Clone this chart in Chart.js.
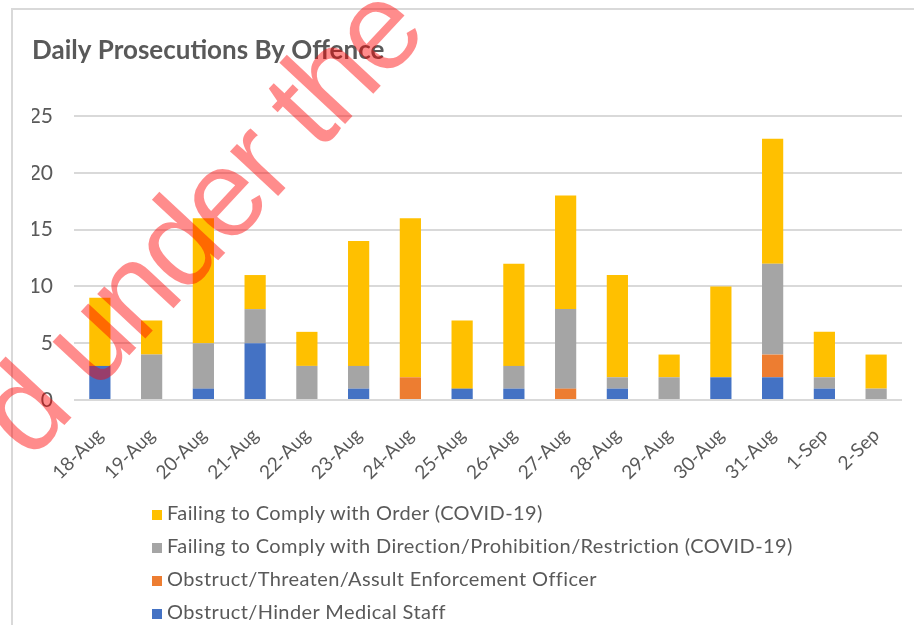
<!DOCTYPE html>
<html>
<head>
<meta charset="utf-8">
<script src="https://cdn.jsdelivr.net/npm/chart.js@4/dist/chart.umd.min.js"></script>
<style>
  body { margin: 0; background: #fff; }
  #wrap { position: relative; width: 914px; height: 625px; overflow: hidden; }
  #frame { position: absolute; left: 11px; top: 8px; width: 920px; height: 640px; border: 2px solid #d9d9d9; box-sizing: border-box; }
  #chartDaily { position: absolute; left: 0; top: 0; }
  #legend { position: absolute; left: 152px; top: 496px; font: 20px Lato, sans-serif; letter-spacing: 0.4px; color: #595959; }
  #legend div { height: 33px; line-height: 33px; white-space: nowrap; }
  #legend span { display: inline-block; width: 10px; height: 10px; margin-right: 5px; }
</style>
</head>
<body>
<div id="wrap">
  <div id="frame"></div>
  <canvas id="chartDaily" width="914" height="625"></canvas>
  <div id="legend"></div>
</div>
<script>
var days = ['18-Aug','19-Aug','20-Aug','21-Aug','22-Aug','23-Aug','24-Aug','25-Aug','26-Aug','27-Aug','28-Aug','29-Aug','30-Aug','31-Aug','1-Sep','2-Sep'];
var hinderMedical = [3,0,1,5,0,1,0,1,1,0,1,0,2,2,1,0];
var assultOfficer = [0,0,0,0,0,0,2,0,0,1,0,0,0,2,0,0];
var failDirection = [0,4,4,3,3,2,0,0,2,7,1,2,0,8,1,1];
var failOrder = [6,3,11,3,3,11,14,6,9,10,9,2,8,11,4,3];
var yTicks = [0,5,10,15,20,25];

var grey = '#595959';

// red watermark drawn over the whole chart
var watermark = {
    id: 'watermark',
    afterDraw: function (chart) {
        var c = chart.ctx;
        c.save();
        c.translate(30, 462);
        c.rotate(-47 * Math.PI / 180);
        c.font = '124px "Liberation Sans"';
        c.letterSpacing = '-4px';
        c.fillStyle = 'rgba(255,0,0,0.45)';
        c.fillText('d under the', 0, 0);
        c.restore();
    }
};

var ctx = document.getElementById('chartDaily');

var chart = new Chart(ctx, {
    type: 'bar',
    data: {
        labels: days,
        datasets: [{
            label: 'Obstruct/Hinder Medical Staff',
            data: hinderMedical,
            backgroundColor: '#4472C4'
        }, {
            label: 'Obstruct/Threaten/Assult Enforcement Officer',
            data: assultOfficer,
            backgroundColor: '#ED7D31'
        }, {
            label: 'Failing to Comply with Direction/Prohibition/Restriction (COVID-19)',
            data: failDirection,
            backgroundColor: '#A5A5A5'
        }, {
            label: 'Failing to Comply with Order (COVID-19)',
            data: failOrder,
            backgroundColor: '#FFC000'
        }]
    },
    options: {
        responsive: false,
        animation: false,
        layout: { padding: { left: 32, right: 12, top: 30, bottom: 0 } },
        datasets: { bar: { categoryPercentage: 1, barPercentage: 0.41 } },
        plugins: {
            legend: { display: false },
            tooltip: { enabled: false },
            title: {
                display: true,
                text: 'Daily Prosecutions By Offence',
                align: 'start',
                color: grey,
                font: { family: 'Lato', size: 26, weight: 'bold' },
                padding: { top: 5, bottom: 49.8 }
            }
        },
        scales: {
            x: {
                stacked: true,
                grid: { display: false },
                border: { display: false },
                afterFit: function (scale) { scale.height = 225; },
                ticks: {
                    color: grey,
                    font: { family: 'Lato', size: 19 },
                    minRotation: 45,
                    maxRotation: 45,
                    autoSkip: false,
                    padding: 16
                }
            },
            y: {
                stacked: true,
                min: 0,
                max: 25,
                afterFit: function (scale) { scale.width = 42; },
                afterBuildTicks: function (scale) {
                    scale.ticks = yTicks.map(function (v) { return { value: v }; });
                },
                grid: { color: '#d9d9d9', lineWidth: 2, drawTicks: false },
                border: { display: false },
                ticks: {
                    color: grey,
                    font: { family: 'Lato', size: 21 },
                    padding: 21
                }
            }
        }
    },
    plugins: [watermark]
});

// legend, top row is the top of the stack
var legendBox = document.getElementById('legend');
chart.data.datasets.slice().reverse().forEach(function (ds) {
    var row = document.createElement('div');
    var sw = document.createElement('span');
    sw.style.background = ds.backgroundColor;
    row.appendChild(sw);
    row.appendChild(document.createTextNode(ds.label));
    legendBox.appendChild(row);
});
</script>
</body>
</html>
